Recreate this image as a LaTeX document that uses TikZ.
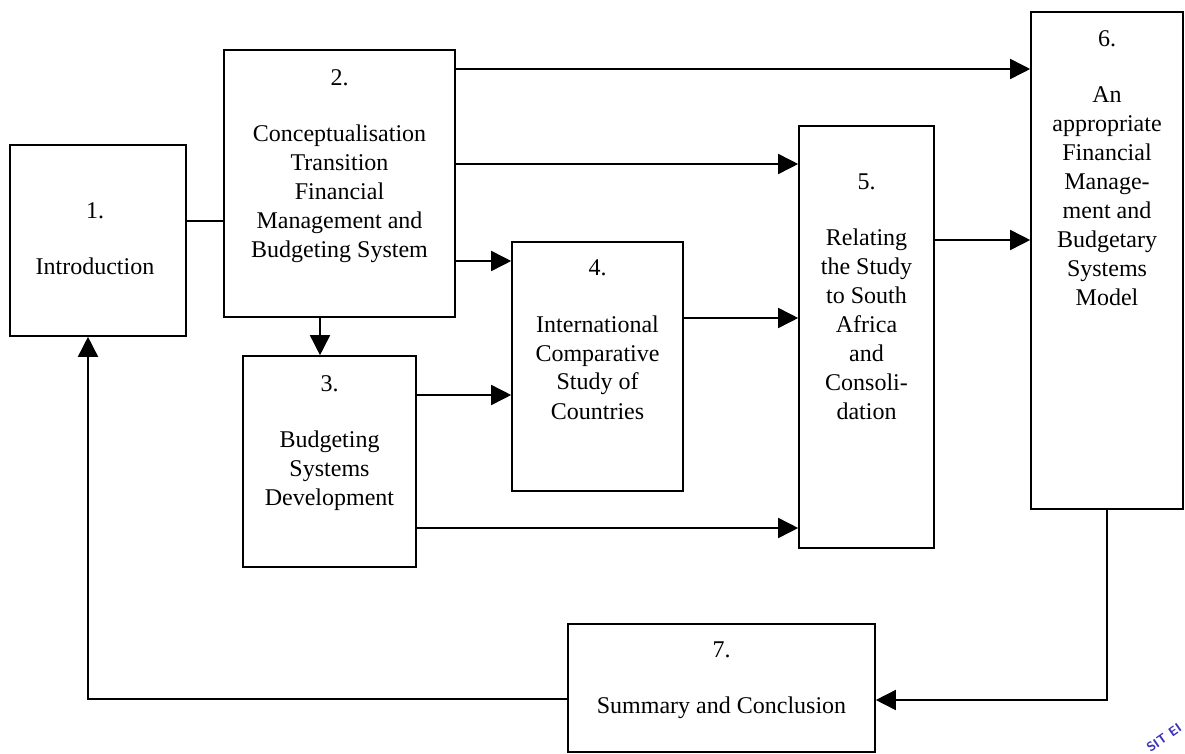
\documentclass[tikz,border=0pt]{standalone}
\usepackage{fontspec}
\setmainfont{Liberation Serif}
\usetikzlibrary{arrows.meta}
\definecolor{stampblue}{RGB}{60,50,190}
\begin{document}
\begin{tikzpicture}[x=1pt,y=-1pt,
  box/.style={draw, line width=1.6pt, inner sep=0pt},
  lbl/.style={font=\fontsize{24}{29}\selectfont, align=center, inner sep=0pt, anchor=north},
  conn/.style={line width=1.6pt},
  arr/.style={conn, -{Triangle[length=20pt,width=20pt]}}
]
\useasboundingbox (0,0) rectangle (1185,754);
\clip (0,0) rectangle (1185,754);
\fill[white] (0,0) rectangle (1185,754);

% boxes
\node[box, minimum width=176pt, minimum height=191pt] (b1) at (98,240.5) {};
\node[box, minimum width=231pt, minimum height=267pt] (b2) at (339.5,183.5) {};
\node[box, minimum width=173pt, minimum height=211pt] (b3) at (329.5,461.5) {};
\node[box, minimum width=171pt, minimum height=249pt] (b4) at (597.5,366.5) {};
\node[box, minimum width=135pt, minimum height=422pt] (b5) at (866.5,337) {};
\node[box, minimum width=152pt, minimum height=497pt] (b6) at (1107,260.5) {};
\node[box, minimum width=307pt, minimum height=128pt] (b7) at (721.5,688) {};

% texts
\node[lbl] (t1) at (95,202) {1.\\[27pt]Introduction};
\node[lbl] (t2) at (339.5,69) {2.\\[27pt]Conceptualisation\\Transition\\Financial\\Management and\\Budgeting System};
\node[lbl] (t3) at (329.5,375) {3.\\[27pt]Budgeting\\Systems\\Development};
\node[lbl] (t4) at (597.5,260) {4.\\[27pt]International\\Comparative\\Study of\\Countries};
\node[lbl] (t5) at (866.5,174) {5.\\[27pt]Relating\\the Study\\to South\\Africa\\and\\Consoli-\\dation};
\node[lbl] (t6) at (1107,30) {6.\\[27pt]An\\appropriate\\Financial\\Manage-\\ment and\\Budgetary\\Systems\\Model};
\node[lbl] (t7) at (721.5,642) {7.\\[27pt]Summary and Conclusion};

% connectors
\draw[conn] (b1.east |- 0,221) -- (b2.west |- 0,221);
\draw[arr] (b2.east |- 0,69) -- (b6.west |- 0,69);
\draw[arr] (b2.east |- 0,164) -- (b5.west |- 0,164);
\draw[arr] (b2.east |- 0,261) -- (b4.west |- 0,261);
\draw[arr] (320,0 |- b2.south) -- (320,0 |- b3.north);
\draw[arr] (b3.east |- 0,395) -- (b4.west |- 0,395);
\draw[arr] (b3.east |- 0,528) -- (b5.west |- 0,528);
\draw[arr] (b4.east |- 0,318) -- (b5.west |- 0,318);
\draw[arr] (b5.east |- 0,240) -- (b6.west |- 0,240);
\draw[arr] (b6.south) |- (b7.east |- 0,700);
\coordinate (corner) at (88,699);
\draw[arr] (b7.west |- 0,699) -- (corner) -- (88,0 |- b1.south);

% stamp fragment
\node[text=stampblue, rotate=35, font=\sffamily\bfseries\fontsize{13}{13}\selectfont, inner sep=0pt] (stamp) at (1164,738) {SIT EI};
\end{tikzpicture}
\end{document}
